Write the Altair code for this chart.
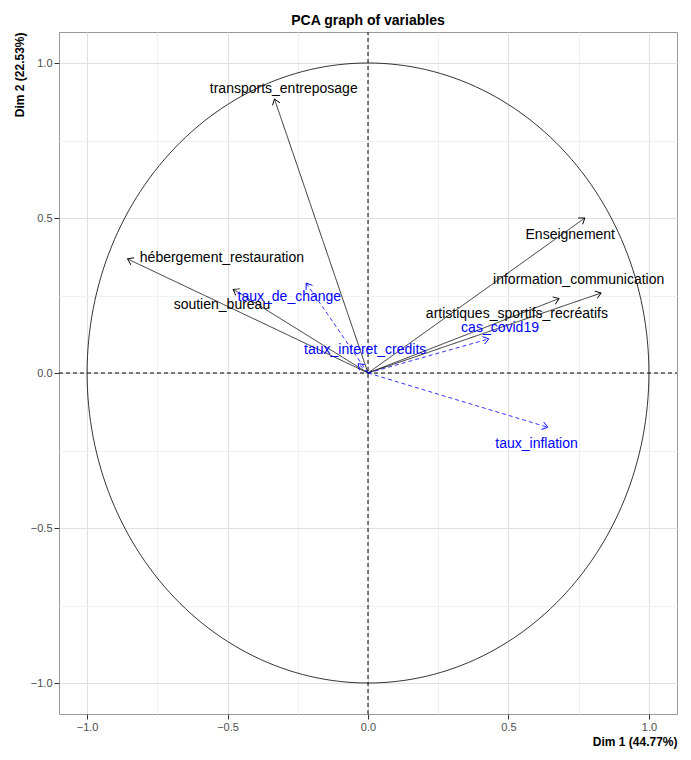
import altair as alt
import numpy as np
import pandas as pd

names = ["transports_entreposage", "hébergement_restauration", "soutien_bureau", "Enseignement",
         "information_communication", "artistiques_sportifs_recréatifs",
         "taux_de_change", "taux_interet_credits", "cas_covid19", "taux_inflation"]
dim1 = [-0.333, -0.856, -0.48, 0.772, 0.83, 0.68, -0.22, -0.035, 0.43, 0.64]
dim2 = [0.884, 0.368, 0.27, 0.50, 0.258, 0.24, 0.29, 0.03, 0.11, -0.175]
label_x = [-0.30, -0.52, -0.52, 0.72, 0.75, 0.53, -0.28, -0.01, 0.47, 0.60]
label_y = [0.915, 0.37, 0.22, 0.445, 0.30, 0.19, 0.245, 0.075, 0.145, -0.23]
kind = ["active"] * 6 + ["supp"] * 4

df = pd.DataFrame({"name": names, "x": dim1, "y": dim2, "lx": label_x, "ly": label_y, "kind": kind})
df["x0"] = 0.0
df["y0"] = 0.0
df["ang"] = (90 - np.degrees(np.arctan2(df["y"] * 310, df["x"] * 285))) % 360

t = np.linspace(0, 2 * np.pi, 241)
circle = pd.DataFrame({"x": np.cos(t), "y": np.sin(t), "o": range(len(t))})

ticks = [-1.0, -0.75, -0.5, -0.25, 0.0, 0.25, 0.5, 0.75, 1.0]
major = "abs(datum.value*2 - round(datum.value*2)) < 0.01"
lbl = major + " ? format(datum.value, '.1f') : ''"


def ax(title):
    return alt.Axis(values=ticks, labelExpr=lbl, title=title, titleAnchor="end", titleFontWeight="bold",
                    tickColor="#333", labelColor="#4d4d4d", domain=False,
                    tickOpacity={"condition": {"test": major, "value": 1}, "value": 0},
                    gridColor={"condition": {"test": major, "value": "#e0e0e0"}, "value": "#f0f0f0"})


xs = alt.Scale(domain=[-1.1, 1.1], nice=False)
ys = alt.Scale(domain=[-1.1, 1.1], nice=False)
X = lambda f: alt.X(f, scale=xs, axis=ax("Dim 1 (44.77%)"))
Y = lambda f: alt.Y(f, scale=ys, axis=ax("Dim 2 (22.53%)"))

color = alt.Color("kind:N", scale=alt.Scale(domain=["active", "supp"], range=["black", "blue"]), legend=None)
dash = alt.StrokeDash("kind:N", scale=alt.Scale(domain=["active", "supp"], range=[[1, 0], [4, 3]]), legend=None)

circ = alt.Chart(circle).mark_line(color="black", strokeWidth=0.8).encode(x=X("x:Q"), y=Y("y:Q"), order="o:Q")
axes = pd.DataFrame({"x": [-1.1, 0], "x2": [1.1, 0], "y": [0, -1.1], "y2": [0, 1.1]})
cross = alt.Chart(axes).mark_rule(color="black", strokeDash=[4, 3]).encode(x="x:Q", x2="x2:Q", y="y:Q", y2="y2:Q")
segs = alt.Chart(df).mark_rule(strokeWidth=0.8).encode(x="x0:Q", y="y0:Q", x2="x:Q", y2="y:Q", color=color, strokeDash=dash)
heads = alt.Chart(df).mark_point(shape="M -1 1.4 L 0 0 L 1 1.4", filled=False, size=60, strokeWidth=0.9, opacity=1).encode(
    x="x:Q", y="y:Q", angle=alt.Angle("ang:Q", scale=None), color=color)
texts = alt.Chart(df).mark_text(fontSize=14, font="Liberation Sans").encode(x="lx:Q", y="ly:Q", text="name:N", color=color)

chart = alt.layer(circ, cross, segs, heads, texts).properties(
    width=675, height=744, autosize=alt.AutoSizeParams(type="fit", contains="padding"),
    title=alt.TitleParams("PCA graph of variables", fontSize=14, fontWeight="bold", anchor="middle")
).configure_view(stroke="#999", strokeWidth=1).configure_axis(labelFontSize=11, titleFontSize=12)

chart.save("out.html", embed_options={"renderer": "svg", "actions": False})
